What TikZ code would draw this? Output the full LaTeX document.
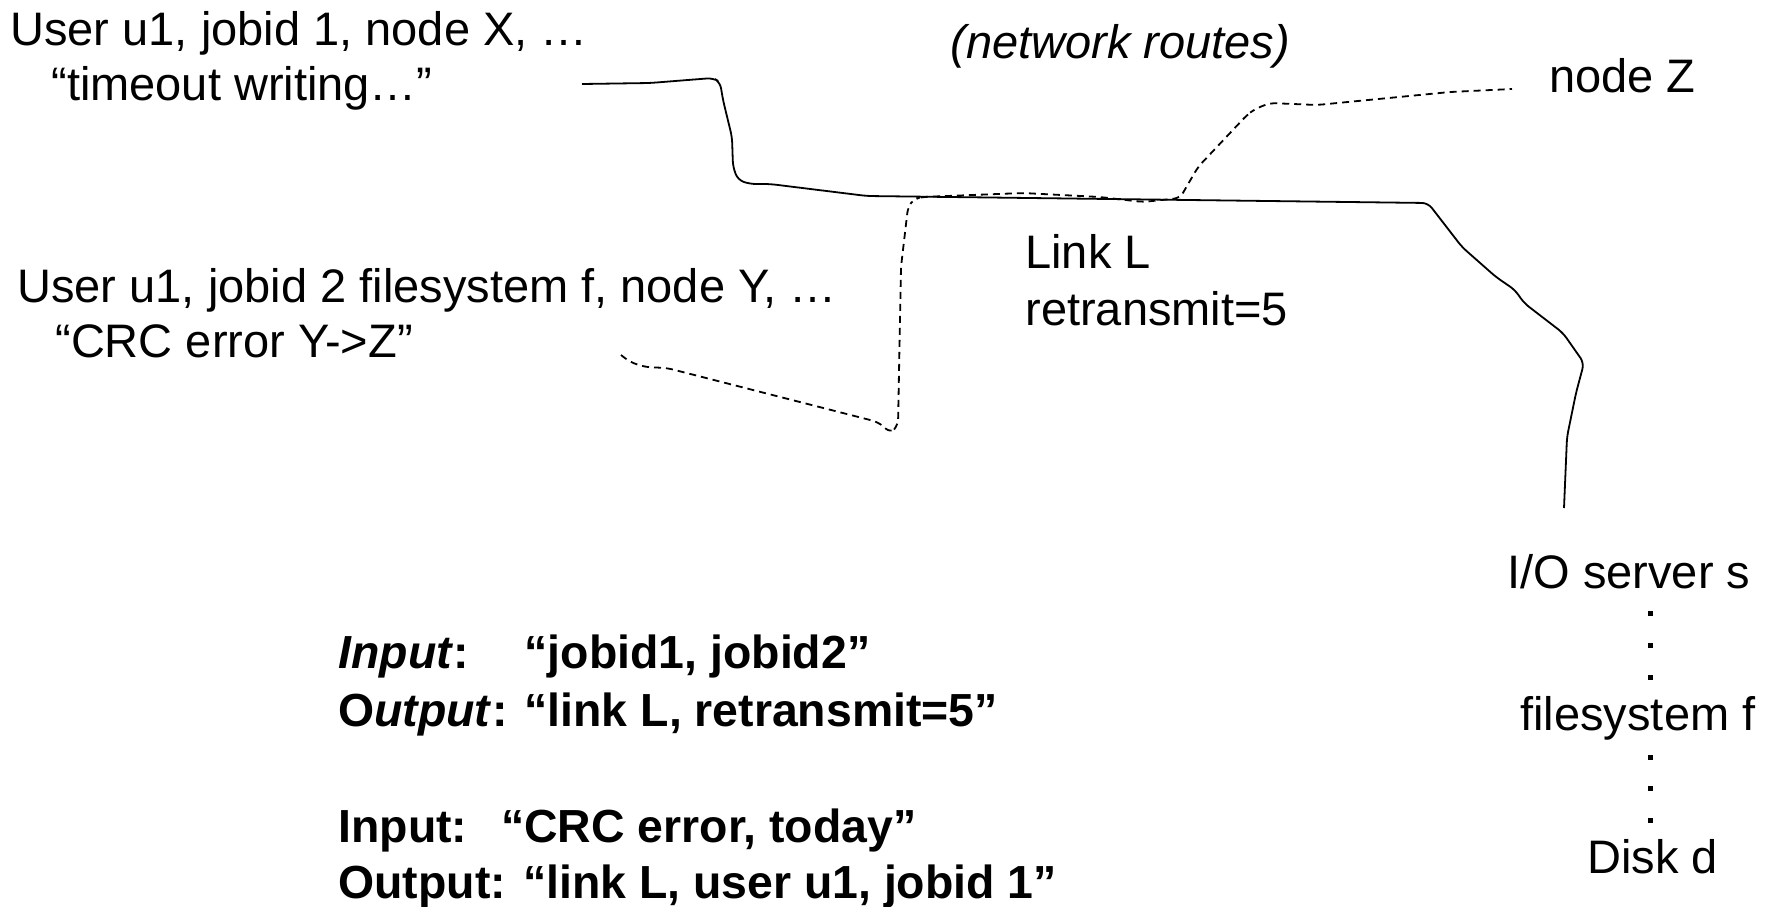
\documentclass[tikz,border=0pt]{standalone}
\usepackage{fontspec}
\setmainfont{Liberation Sans}
\begin{document}
\begin{tikzpicture}[x=0.5pt,y=-0.5pt,
    every node/.style={inner sep=0pt,anchor=base west},
    lbl/.style={font=\fontsize{23.5}{28}\selectfont},
    qry/.style={font=\fontsize{23.2}{28}\selectfont\bfseries},
    route/.style={line width=0.9pt,rounded corners=3pt},
    altroute/.style={line width=0.9pt,dash pattern=on 3.5pt off 2.5pt,rounded corners=3pt}]
    \useasboundingbox (0,0) rectangle (1773,906);
    % jobs and their log messages
    \node[lbl] (jobx) at (10,45) {User u1, jobid 1, node X, …};
    \node[lbl] (timeout) at (51,100) {“timeout writing…”};
    \node[lbl] (joby) at (17,302) {User u1, jobid 2 filesystem f, node Y, …};
    \node[lbl] (crc) at (55,357) {“CRC error Y->Z”};
    \node[lbl] (routes) at (950,58) {\itshape (network routes)};
    \node[lbl] (nodez) at (1549,92) {node Z};
    \node[lbl] (linkl) at (1025,268) {Link L};
    \node[lbl] (retrans) at (1025,325) {retransmit=5};
    % storage side
    \node[lbl] (ioserver) at (1507,588) {I/O server s};
    \node[lbl] (filesys) at (1520,730) {filesystem f};
    \node[lbl] (disk) at (1587,873) {Disk d};
    \foreach \y in {613,645,677,757,788,820}
        \fill (1650,\y) +(-2.5,-2.5) rectangle +(2.5,2.5);
    % queries
    \node[qry] (in1) at (338,668) {\textit{Input}:\hspace{28pt}“jobid1, jobid2”};
    \node[qry] (out1) at (338,726) {O\textit{utput}: “link L, retransmit=5”};
    \node[qry] (in2) at (338,842) {Input:\hspace{17pt}“CRC error, today”};
    \node[qry] (out2) at (338,898) {Output: “link L, user u1, jobid 1”};
    % route ends
    \coordinate (xend) at (582,84);
    \coordinate (yend) at (621,355);
    \coordinate (zend) at (1512,89);
    \coordinate (send) at (1564,508);
    % X -> I/O server
    \draw[route] (xend) -- (650,83) -- (713,78) -- (720,82) -- (723,100) -- (732,137)
        -- (733,167) -- (738,180) -- (750,184) -- (770,184) -- (867,196) -- (950,197)
        -- (1428,203) -- (1462,247) -- (1496,277) -- (1515,290) -- (1524,303)
        -- (1563,333) -- (1584,363) -- (1576,393) -- (1567,437) -- (send);
    % Y -> Z
    \draw[altroute] (yend) -- (630,362) -- (645,367) -- (667,368) -- (878,422)
        -- (891,433) -- (898,425) -- (901,267) -- (908,207) -- (914,199) -- (922,197)
        -- (1023,193) -- (1100,197) -- (1143,202) -- (1180,198) -- (1198,167)
        -- (1247,115) -- (1255,109) -- (1270,103) -- (1317,105) -- (1450,92) -- (zend);
\end{tikzpicture}
\end{document}
